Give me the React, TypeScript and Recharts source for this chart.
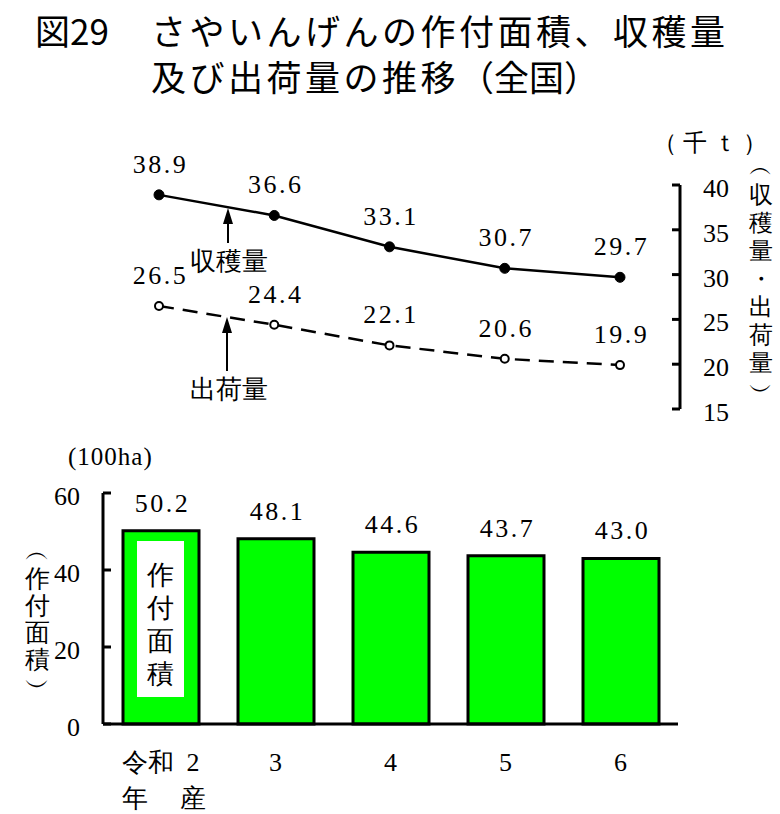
import React from 'react';
import { LineChart, Line, BarChart, Bar, XAxis, YAxis, LabelList } from 'recharts';

const years = ['令和2年産', '3', '4', '5', '6'];
const harvest = [38.9, 36.6, 33.1, 30.7, 29.7];
const shipment = [26.5, 24.4, 22.1, 20.6, 19.9];
const area = [50.2, 48.1, 44.6, 43.7, 43.0];
const tonTicks = [15, 20, 25, 30, 35, 40];
const haTicks = [0, 20, 40, 60];

const lineData = years.map((year, i) => ({ year, harvest: harvest[i], shipment: shipment[i] }));
const barData = years.map((year, i) => ({ year, area: area[i] }));

const SERIF = 'Liberation Serif';
const JP = 'Noto Sans CJK JP';

// value label drawn above a point or a bar
const valueLabel = (offset: number) => (props: any) => {
  const vb = props.viewBox || props;
  const cx = vb.x + (vb.width || 0) / 2;
  return (
    <text
      x={cx + 1.5}
      y={vb.y - offset}
      textAnchor="middle"
      fontFamily={SERIF}
      fontSize={26}
      letterSpacing={2.5}
      fill="#000"
    >
      {Number(props.value).toFixed(1)}
    </text>
  );
};

const YearTick = ({ x, y, payload }: any) => {
  if (payload.value === years[0]) {
    return (
      <g fill="#000" fontSize={26} fontFamily={SERIF}>
        <text x={x - 39} y={y + 47}>令和</text>
        <text x={x + 39} y={y + 47} textAnchor="end">2</text>
        <text x={x - 39} y={y + 83}>年</text>
        <text x={x + 45} y={y + 83} textAnchor="end">産</text>
      </g>
    );
  }
  return (
    <text x={x} y={y + 47} textAnchor="middle" fontSize={26} fontFamily={SERIF} fill="#000">
      {payload.value}
    </text>
  );
};

const NumTick = ({ x, y, payload, textAnchor }: any) => (
  <text x={x} y={y + 12} textAnchor={textAnchor} fontSize={26} fontFamily={SERIF} fill="#000">
    {payload.value}
  </text>
);

const rightLabel = ['︵', '収', '穫', '量', '・', '出', '荷', '量', '︶'];
const leftLabel = ['︵', '作', '付', '面', '積', '︶'];
const boxLabel = ['作', '付', '面', '積'];

const axisStyle = { stroke: '#000', strokeWidth: 3 };

export default function App() {
  return (
    <div style={{ position: 'absolute', left: 0, top: 0, width: 780, height: 814, background: '#fff' }}>
      <div style={{ position: 'absolute', left: 0, top: 0 }}>
        <LineChart width={780} height={440} data={lineData} margin={{ top: 185, right: 40, left: 101, bottom: 31 }}>
          <XAxis dataKey="year" hide padding={{ left: 58, right: 60 }} />
          <YAxis
            orientation="right"
            width={60}
            domain={[15, 40]}
            ticks={tonTicks}
            interval={0}
            axisLine={axisStyle}
            tickLine={axisStyle}
            tickSize={-8}
            tickMargin={31}
            tick={<NumTick />}
          />
          <Line
            dataKey="harvest"
            stroke="#000"
            strokeWidth={2.5}
            dot={{ r: 5, fill: '#000', stroke: '#000', strokeWidth: 1 }}
            isAnimationActive={false}
          >
            <LabelList dataKey="harvest" content={valueLabel(22)} />
          </Line>
          <Line
            dataKey="shipment"
            stroke="#000"
            strokeWidth={2.5}
            strokeDasharray="15 9"
            dot={{ r: 4, fill: '#fff', stroke: '#000', strokeWidth: 2, strokeDasharray: '' }}
            isAnimationActive={false}
          >
            <LabelList dataKey="shipment" content={valueLabel(22)} />
          </Line>
        </LineChart>
      </div>
      <div style={{ position: 'absolute', left: 0, top: 440 }}>
        <BarChart width={780} height={374} data={barData} margin={{ top: 53, right: 102, left: 45, bottom: 30 }}>
          <XAxis
            dataKey="year"
            axisLine={axisStyle}
            tickLine={false}
            tickSize={0}
            tickMargin={0}
            height={60}
            interval={0}
            tick={<YearTick />}
          />
          <YAxis
            width={58}
            domain={[0, 60]}
            ticks={haTicks}
            interval={0}
            axisLine={axisStyle}
            tickLine={axisStyle}
            tickSize={-8}
            tickMargin={31}
            tick={<NumTick />}
          />
          <Bar dataKey="area" fill="#00ff00" stroke="#000" strokeWidth={3} barSize={76} isAnimationActive={false}>
            <LabelList dataKey="area" content={valueLabel(19)} />
          </Bar>
        </BarChart>
      </div>
      <svg width={780} height={814} style={{ position: 'absolute', left: 0, top: 0, pointerEvents: 'none' }}>
        <g fontFamily={JP} fontSize={35} fill="#000">
          <text x={35} y={45}>図29</text>
          <text x={151} y={45} letterSpacing={3.5}>さやいんげんの作付面積、収穫量</text>
          <text x={151} y={91} letterSpacing={3.5}>
            及び出荷量の推移<tspan letterSpacing={0}>（全国）</tspan>
          </text>
        </g>
        <text x={653} y={151} fontFamily={SERIF} fontSize={24} letterSpacing={6}>（千ｔ）</text>
        <g fontFamily={SERIF} fontSize={24} textAnchor="middle">
          {rightLabel.map((c, i) => (
            <text key={i} x={761} y={175 + i * 28}>{c}</text>
          ))}
        </g>
        <text x={68} y={465} fontFamily={SERIF} fontSize={25} letterSpacing={1}>(100ha)</text>
        <g fontFamily={SERIF} fontSize={25} textAnchor="middle">
          {leftLabel.map((c, i) => (
            <text key={i} x={37} y={560 + i * 27}>{c}</text>
          ))}
        </g>
        <rect x={137} y={541} width={47} height={156} fill="#fff" />
        <g fontFamily={SERIF} fontSize={27} textAnchor="middle">
          {boxLabel.map((c, i) => (
            <text key={i} x={160} y={584 + i * 33}>{c}</text>
          ))}
        </g>
        <g fontFamily={SERIF} fontSize={26}>
          <text x={190} y={270}>収穫量</text>
          <text x={190} y={398}>出荷量</text>
        </g>
        <g stroke="#000" strokeWidth={2}>
          <line x1={228} y1={243} x2={228} y2={220} />
          <line x1={227} y1={371} x2={227} y2={330} />
        </g>
        <polygon points="228,208 223,224 233,224" fill="#000" />
        <polygon points="227,317 222,333 232,333" fill="#000" />
      </svg>
    </div>
  );
}
